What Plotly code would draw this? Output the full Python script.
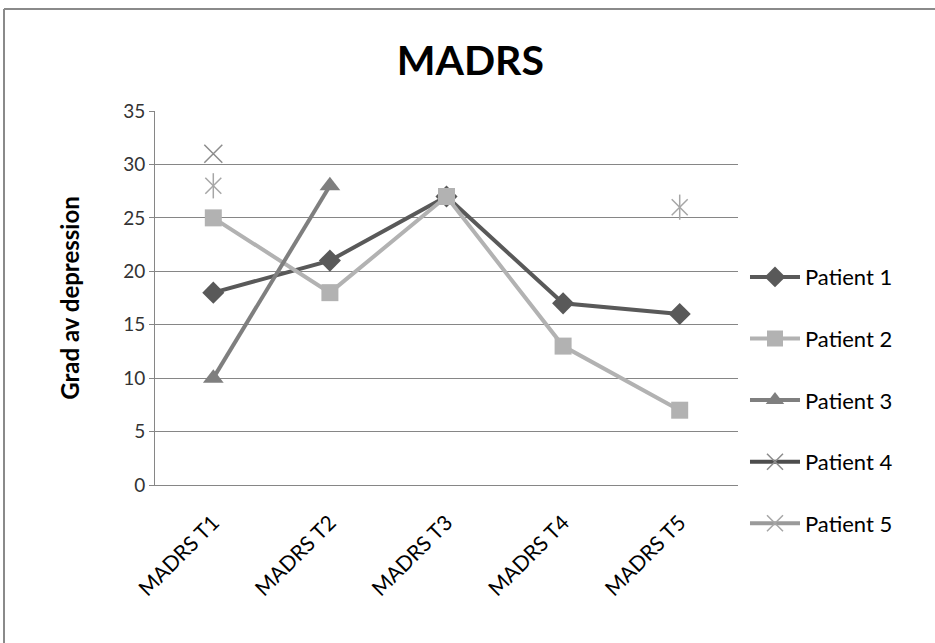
import plotly.graph_objects as go

# MADRS scores per patient at each assessment
categories = ["MADRS T1", "MADRS T2", "MADRS T3", "MADRS T4", "MADRS T5"]
patient_1 = [18, 21, 27, 17, 16]
patient_2 = [25, 18, 27, 13, 7]
patient_3 = [10, 28, None, None, None]
patient_4 = [31, None, None, None, None]
patient_5 = [28, None, None, None, 26]
y_ticks = [0, 5, 10, 15, 20, 25, 30, 35]

FONT = "Lato"
fig = go.Figure()

fig.add_trace(go.Scatter(
    x=categories, y=patient_1, name="Patient 1", mode="lines+markers",
    line=dict(color="#595959", width=4),
    marker=dict(symbol="diamond", size=17, color="#595959"),
    legendgroup="p1"))
fig.add_trace(go.Scatter(
    x=categories, y=patient_2, name="Patient 2", mode="lines+markers",
    line=dict(color="#b2b2b2", width=4),
    marker=dict(symbol="square", size=17, color="#b2b2b2"),
    legendgroup="p2"))
fig.add_trace(go.Scatter(
    x=categories, y=patient_3, name="Patient 3", mode="lines+markers",
    line=dict(color="#7f7f7f", width=4),
    marker=dict(symbol="triangle-up", size=18, color="#7f7f7f"),
    legendgroup="p3"))
fig.add_trace(go.Scatter(
    x=categories, y=patient_4, name="Patient 4", mode="lines+markers",
    line=dict(color="#4d4d4d", width=4),
    marker=dict(symbol="x-thin", size=18, color="#8c8c8c",
                line=dict(color="#8c8c8c", width=1.5)),
    legendgroup="p4"))
fig.add_trace(go.Scatter(
    x=categories, y=patient_5, name="Patient 5", mode="lines+markers",
    line=dict(color="#9a9a9a", width=4),
    marker=dict(symbol="x-thin", size=16, color="#a6a6a6",
                line=dict(color="#a6a6a6", width=1.5)),
    legendgroup="p5"))
# vertical stroke completing the star marker of Patient 5
fig.add_trace(go.Scatter(
    x=categories, y=patient_5, mode="markers", showlegend=False,
    marker=dict(symbol="line-ns", size=18, color="#a6a6a6",
                line=dict(color="#a6a6a6", width=1.5)),
    legendgroup="p5", hoverinfo="skip"))

# chart frame (top and left edges visible)
frame = dict(color="#8a8a8a", width=2)
fig.add_shape(type="line", xref="paper", yref="paper",
              x0=-0.259, x1=-0.259, y0=-0.5, y1=1.2727, line=frame)
fig.add_shape(type="line", xref="paper", yref="paper",
              x0=-0.259, x1=1.5, y0=1.2727, y1=1.2727, line=frame)

fig.update_layout(
    width=935, height=643,
    margin=dict(l=155, r=197, t=111, b=158),
    paper_bgcolor="white", plot_bgcolor="white",
    font=dict(family=FONT, color="#000000"),
    title=dict(text="<b>MADRS</b>", x=0.503, xanchor="center", xref="container",
               y=0.905, yanchor="middle", yref="container",
               font=dict(family=FONT, size=41, color="#000000")),
    showlegend=True,
    legend=dict(x=1.012, xanchor="left", y=0.227, yanchor="middle",
                font=dict(family=FONT, size=22, color="#000000"),
                tracegroupgap=30, itemwidth=50, bgcolor="rgba(0,0,0,0)"),
    xaxis=dict(
        type="category", range=[-0.5, 4.5],
        tickangle=-45, tickfont=dict(family=FONT, size=21, color="#000000"),
        ticklabelstandoff=16,
        showgrid=False, showline=True, linecolor="#868686", linewidth=1,
        ticks="", zeroline=False),
    yaxis=dict(
        range=[0, 35], tickvals=y_ticks,
        tickfont=dict(family=FONT, size=19, color="#333333"),
        showgrid=True, gridcolor="#868686", gridwidth=1,
        showline=True, linecolor="#868686", linewidth=1,
        ticks="outside", ticklen=5, tickcolor="#868686",
        zeroline=False,
        title=dict(text="<b>Grad av depression</b>", standoff=36,
                   font=dict(family=FONT, size=24, color="#000000"))),
)

fig.write_html("out.html")
